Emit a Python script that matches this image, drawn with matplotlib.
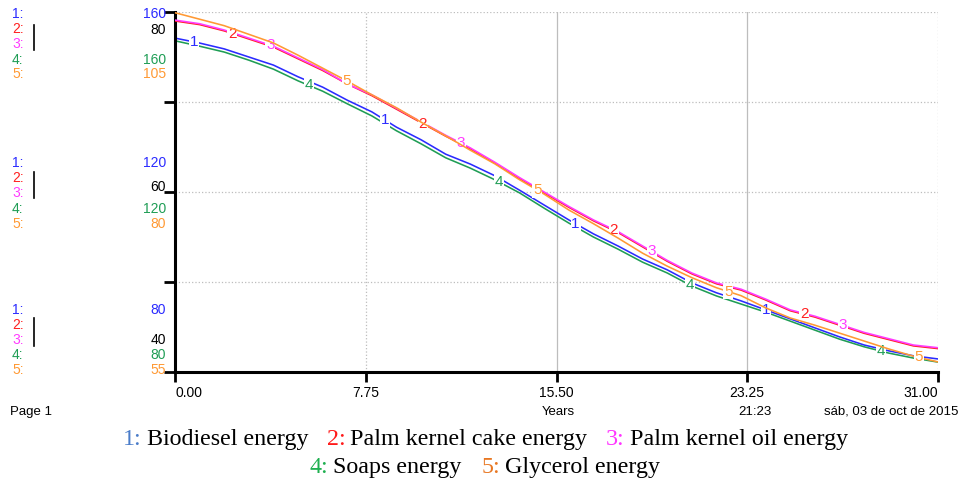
import matplotlib
matplotlib.use('Agg')
import matplotlib.pyplot as plt
from matplotlib.lines import Line2D
import numpy as np

plt.rcParams['font.family'] = ['Liberation Sans', 'DejaVu Sans']

# ---- data ----
years = list(range(0, 32))

biodiesel = [154.2, 153.1, 151.8, 150.0, 148.2, 145.6, 143.3, 140.4, 137.8, 134.4,
             131.6, 128.4, 126.2, 123.6, 120.4, 117.1, 113.8, 110.7, 108.0, 105.1,
             102.7, 99.8, 97.6, 95.8, 93.8, 91.8, 89.8, 87.8, 86.0, 84.7, 83.6, 82.9]
palm_cake = [79.0, 78.6, 77.9, 77.0, 76.1, 74.8, 73.5, 72.0, 70.7, 69.2,
             67.7, 66.2, 64.8, 63.2, 61.5, 59.9, 58.3, 56.8, 55.5, 53.9,
             52.3, 50.9, 49.8, 49.1, 48.0, 46.8, 46.1, 45.2, 44.3, 43.6, 42.9, 42.6]
palm_oil = [79.1, 78.7, 78.0, 77.1, 76.2, 74.9, 73.6, 72.0, 70.8, 69.3,
            67.8, 66.3, 64.9, 63.3, 61.6, 60.0, 58.4, 56.9, 55.6, 54.0,
            52.4, 51.0, 49.9, 49.2, 48.1, 46.9, 46.2, 45.3, 44.4, 43.7, 43.0, 42.7]
soaps = [153.6, 152.4, 151.1, 149.3, 147.3, 144.7, 142.4, 139.6, 136.9, 133.6,
         130.7, 127.6, 125.3, 122.7, 119.8, 116.4, 113.1, 110.0, 107.3, 104.4,
         102.0, 99.1, 96.9, 95.1, 93.3, 91.3, 89.3, 87.3, 85.6, 84.2, 83.1, 82.2]
glycerol = [104.9, 104.0, 103.1, 101.9, 100.7, 99.0, 97.2, 95.4, 93.5, 91.7,
            89.7, 87.8, 85.8, 83.9, 81.7, 79.7, 77.5, 75.6, 73.6, 71.5,
            69.7, 68.1, 66.7, 65.6, 63.9, 62.5, 61.5, 60.4, 59.3, 58.2, 57.2, 56.4]

names = ['Biodiesel energy', 'Palm kernel cake energy', 'Palm kernel oil energy',
         'Soaps energy', 'Glycerol energy']
x_ticks = [0.00, 7.75, 15.50, 23.25, 31.00]

line_colors = ['#2b2bff', '#ff2020', '#ff3cff', '#1f9d55', '#ff9933']
legend_colors = ['#4a7cc9', '#ff1a1a', '#ff33ff', '#1fb050', '#e87722']

W, H = 961, 480
fig = plt.figure(figsize=(W / 100, H / 100), dpi=100)
ax = fig.add_axes([175 / W, 1 - 372 / H, (938 - 175) / W, (372 - 12) / H])
ax2 = ax.twinx()   # scale for series 2 and 3
ax3 = ax.twinx()   # scale for series 5

ax.set_xlim(0, 31)
ax.set_ylim(80, 160)
ax2.set_ylim(40, 80)
ax3.set_ylim(55, 105)
ax2.axis('off')
ax3.axis('off')

# series -> axes
series = [(ax, biodiesel), (ax2, palm_cake), (ax2, palm_oil), (ax, soaps), (ax3, glycerol)]
for i, (a, vals) in enumerate(series):
    a.plot(years, vals, color=line_colors[i], lw=1.15, zorder=2 + i * 0.1)

# numbered markers on the lines
for k in range(20):
    i = k % 5
    t = 0.775 + 1.55 * k
    a, vals = series[i]
    a.text(t, np.interp(t, years, vals), str(i + 1), color=line_colors[i],
           fontsize=11, ha='center', va='center', zorder=5,
           bbox=dict(boxstyle='square,pad=0.05', fc='white', ec='none'))

# grid / frame
ax.set_yticks([80, 100, 120, 140, 160])
ax.set_yticklabels([])
ax.set_xticks(x_ticks)
ax.set_xticklabels(['%.2f' % v for v in x_ticks], fontsize=10)
tl = ax.get_xticklabels()
tl[0].set_ha('left')
tl[-1].set_ha('right')
ax.tick_params(axis='x', direction='out', length=7, width=2, pad=3)
ax.tick_params(axis='y', direction='out', length=8, width=2)
for v in [100, 120, 140, 160]:
    ax.axhline(v, color='#bdbdbd', lw=0.9, ls=':', zorder=1)
for v, ls in zip(x_ticks[1:], [':', '-', '-', ':']):
    ax.axvline(v, color='#bdbdbd', lw=0.9, ls=ls, zorder=1)
ax.spines['left'].set_linewidth(2.2)
ax.spines['bottom'].set_linewidth(2.2)
ax.spines['top'].set_visible(False)
ax.spines['right'].set_visible(False)
for s in ['left', 'bottom', 'top', 'right']:
    ax2.spines[s].set_visible(False)
    ax3.spines[s].set_visible(False)

# left scale labels (STELLA style)
groups = [
    # (row y pixels, values, shared label, shared y, bracket span)
    ([14, 29, 44, 60, 74], ['160', '160', '105'], '80', 30, (25, 50)),
    ([163, 178, 193, 209, 224], ['120', '120', '80'], '60', 187, (172, 198)),
    ([310, 325, 340, 355, 370], ['80', '80', '55'], '40', 340, (318, 346)),
]
for rows, vals, shared, sy, (b0, b1) in groups:
    for i in range(5):
        fig.text(12 / W, 1 - rows[i] / H, '%d:' % (i + 1), color=line_colors[i],
                 fontsize=10, ha='left', va='center')
    fig.text(166 / W, 1 - rows[0] / H, vals[0], color=line_colors[0], fontsize=10, ha='right', va='center')
    fig.text(166 / W, 1 - rows[3] / H, vals[1], color=line_colors[3], fontsize=10, ha='right', va='center')
    fig.text(166 / W, 1 - rows[4] / H, vals[2], color=line_colors[4], fontsize=10, ha='right', va='center')
    fig.text(166 / W, 1 - sy / H, shared, color='black', fontsize=10, ha='right', va='center')
    fig.add_artist(Line2D([34 / W, 34 / W], [1 - b0 / H, 1 - b1 / H], color='black', lw=1.2))

# footer
fig.text(10 / W, 1 - 412 / H, 'Page 1', fontsize=9.5, va='center')
fig.text(558 / W, 1 - 412 / H, 'Years', fontsize=9.5, ha='center', va='center')
fig.text(772 / W, 1 - 412 / H, '21:23', fontsize=9.5, ha='right', va='center')
fig.text(958 / W, 1 - 412 / H, 'sáb, 03 de oct de 2015', fontsize=9.5, ha='right', va='center')

# legend (serif, coloured numbers)
leg_rows = [
    (445, [(123, 147, 0), (327, 350, 1), (606, 630, 2)]),
    (473, [(309, 333, 3), (482, 505, 4)]),
]
for y, items in leg_rows:
    for xn, xt, i in items:
        fig.text(xn / W, 1 - y / H, '%d:' % (i + 1), color=legend_colors[i],
                 fontsize=17.3, family='Liberation Serif', va='baseline')
        fig.text(xt / W, 1 - y / H, names[i], color='black',
                 fontsize=17.3, family='Liberation Serif', va='baseline')

fig.savefig('out.png', dpi=100)
